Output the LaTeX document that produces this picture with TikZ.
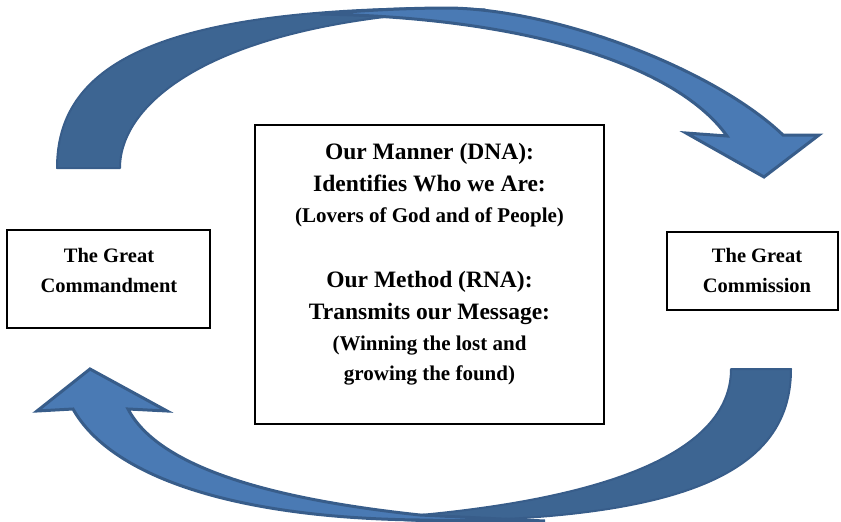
\documentclass[tikz,border=0pt]{standalone}
\usepackage{fontspec}
\setmainfont{Liberation Serif}
\definecolor{frontfill}{RGB}{74,122,180}
\definecolor{arrowline}{RGB}{56,93,138}
\definecolor{backfill}{RGB}{61,101,146}
\begin{document}
\begin{tikzpicture}[x=1pt,y=-1pt,
  framebox/.style={draw=black, line width=1.5pt, fill=white, inner sep=0pt},
  sidetext/.style={font=\fontsize{20.5}{24}\selectfont\bfseries, anchor=base, inner sep=0pt},
  bigtext/.style={font=\fontsize{23.5}{28}\selectfont\bfseries, anchor=base, inner sep=0pt},
  smalltext/.style={font=\fontsize{21}{25}\selectfont\bfseries, anchor=base, inner sep=0pt},
  backpiece/.style={fill=backfill, draw=arrowline, line width=2pt, line join=round},
  frontpiece/.style={fill=frontfill, draw=arrowline, line width=3pt, line join=miter}]
\useasboundingbox (0,0) rectangle (841,522);

% top curved arrow
\filldraw[backpiece] (57,168) .. controls (57,68) and (150,8) .. (450,8) -- (485,9.5)
  .. controls (220,18) and (120,100) .. (120,168) -- cycle;
\filldraw[frontpiece] (320,14) .. controls (380,9) and (420,8) .. (450,8)
  .. controls (560,10) and (715,70) .. (783,135)
  -- (819,135) -- (764,177) -- (686,133) -- (727,136)
  .. controls (680,70) and (540,18) .. (320,14) -- cycle;

% bottom curved arrow
\filldraw[backpiece] (791,369) .. controls (791,464) and (703,521) .. (420,521) -- (378,518.5)
  .. controls (640,500) and (731,440) .. (731,369) -- cycle;
\filldraw[frontpiece] (73,409) .. controls (110,475) and (230,518) .. (420,520)
  .. controls (470,521) and (510,521) .. (545,521)
  .. controls (500,519) and (460,517) .. (420,515)
  .. controls (280,500) and (160,470) .. (128,409)
  -- (167,411) -- (90,369) -- (37,411) -- cycle;

% boxes
\node[framebox, minimum width=203pt, minimum height=98pt] (cmd) at (108.5,279) {};
\node[framebox, minimum width=171pt, minimum height=78pt] (cms) at (752.5,271) {};
\node[framebox, minimum width=349pt, minimum height=299pt] (mid) at (429.5,274.5) {};

\node[sidetext] (cmdA) at (109,262) {The Great};
\node[sidetext] (cmdB) at (109,292) {Commandment};
\node[sidetext] (cmsA) at (757,262) {The Great};
\node[sidetext] (cmsB) at (757,292) {Commission};

\node[bigtext] (m1) at (429.5,159) {Our Manner (DNA):};
\node[bigtext] (m2) at (429.5,191) {Identifies Who we Are:};
\node[smalltext] (m3) at (429.5,222) {(Lovers of God and of People)};
\node[bigtext] (m4) at (429.5,287) {Our Method (RNA):};
\node[bigtext] (m5) at (429.5,319) {Transmits our Message:};
\node[smalltext] (m6) at (429.5,350) {(Winning the lost and};
\node[smalltext] (m7) at (429.5,380) {growing the found)};
\end{tikzpicture}
\end{document}
